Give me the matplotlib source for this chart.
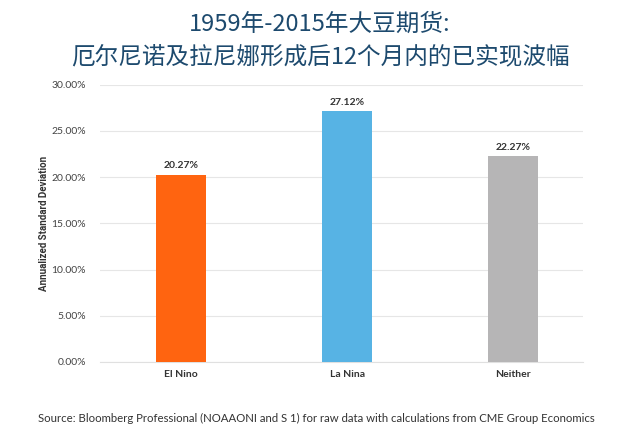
import matplotlib
matplotlib.use("Agg")
import matplotlib.pyplot as plt
from matplotlib.ticker import FuncFormatter

plt.rcParams['font.family'] = ['Noto Sans CJK SC', 'DejaVu Sans']

categories = ["El Nino", "La Nina", "Neither"]
values = [20.27, 27.12, 22.27]
colors = ["#FF6410", "#57B3E4", "#B6B5B6"]
yticks = [0, 5, 10, 15, 20, 25, 30]

fig = plt.figure(figsize=(6.4, 4.44), dpi=100)
ax = fig.add_axes([0.156, 0.185, 0.755, 0.624])

x = list(range(len(categories)))
ax.bar(x, values, width=0.30, color=colors, zorder=3)
for xi, v in zip(x, values):
    ax.text(xi, v + 0.5, f"{v:.2f}%", ha="center", va="bottom", fontsize=7.5,
            fontweight="bold", color="#333333", family="Lato")

ax.set_ylim(0, 30)
ax.set_xlim(-0.49, 2.42)
ax.set_yticks(yticks)
ax.yaxis.set_major_formatter(FuncFormatter(lambda v, p: f"{v:.2f}%"))
ax.set_xticks(x)
ax.set_xticklabels(categories, fontsize=7.5, fontweight="bold", color="#333333", family="Lato")
for lab in ax.get_yticklabels():
    lab.set_fontsize(7.5)
    lab.set_color("#444444")
    lab.set_family("Lato")
ax.tick_params(axis="both", length=0, pad=6)
ax.tick_params(axis="y", pad=10)
ax.grid(axis="y", color="#E6E6E6", linewidth=0.8, zorder=0)
for s in ["top", "right", "left"]:
    ax.spines[s].set_visible(False)
ax.spines["bottom"].set_color("#E0E0E0")
ax.set_ylabel("Annualized Standard Deviation", fontsize=7, fontweight="bold",
              color="#333333", family="Roboto", labelpad=2)

fig.text(0.5, 0.945, "1959年-2015年大豆期货:", ha="center", va="center",
         fontsize=17, fontweight="medium", color="#1D4A6E")
fig.text(0.5, 0.872, "厄尔尼诺及拉尼娜形成后12个月内的已实现波幅", ha="center", va="center",
         fontsize=17, fontweight="medium", color="#1D4A6E")
fig.text(0.06, 0.058, "Source: Bloomberg Professional (NOAAONI and S 1) for raw data with calculations from CME Group Economics",
         ha="left", va="center", fontsize=8.2, color="#333333", family="Lato")

fig.savefig("out.png", dpi=100)
